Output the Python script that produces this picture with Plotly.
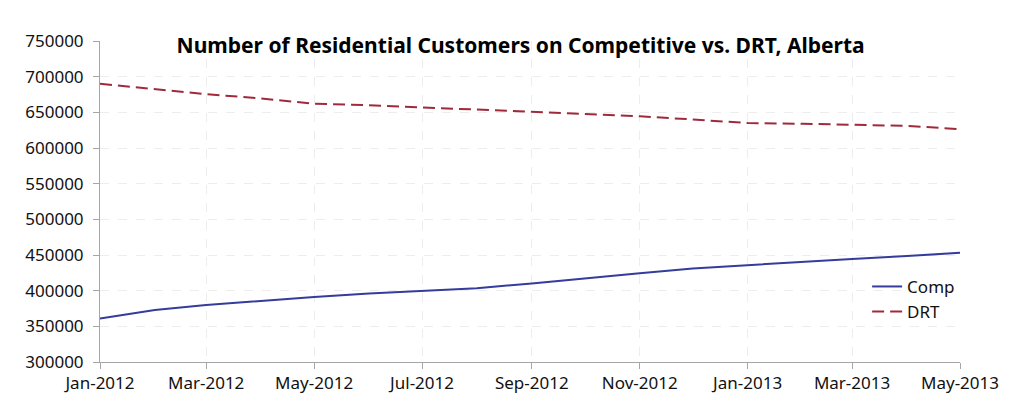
import plotly.graph_objects as go

months = ["2012-01-01", "2012-02-01", "2012-03-01", "2012-04-01", "2012-05-01", "2012-06-01",
          "2012-07-01", "2012-08-01", "2012-09-01", "2012-10-01", "2012-11-01", "2012-12-01",
          "2013-01-01", "2013-02-01", "2013-03-01", "2013-04-01", "2013-05-01"]
comp = [361000, 373000, 380000, 386000, 391000, 396000, 400000, 403500, 410000, 417500,
        424500, 431000, 436000, 440500, 444500, 448500, 453000]
drt = [690000, 682000, 675500, 669500, 662000, 660000, 657000, 653500, 650500, 647500,
       644500, 640000, 635000, 634000, 632500, 631000, 626500]
tick_vals = ["2012-01-01", "2012-03-01", "2012-05-01", "2012-07-01", "2012-09-01",
             "2012-11-01", "2013-01-01", "2013-03-01", "2013-05-01"]
tick_text = ["Jan-2012", "Mar-2012", "May-2012", "Jul-2012", "Sep-2012",
             "Nov-2012", "Jan-2013", "Mar-2013", "May-2013"]
y_ticks = list(range(300000, 750001, 50000))

FONT = "Noto Sans"

fig = go.Figure()
fig.add_trace(go.Scatter(x=months, y=comp, name="Comp", mode="lines",
                         line=dict(color="#343c9c", width=2)))
fig.add_trace(go.Scatter(x=months, y=drt, name="DRT", mode="lines",
                         line=dict(color="#a02a3c", width=2, dash="12px,6px")))

fig.update_layout(
    width=1011, height=419,
    margin=dict(l=100, r=51, t=41, b=57),
    paper_bgcolor="white", plot_bgcolor="white",
    font=dict(family=FONT, size=17, color="#111111"),
    title=dict(text="<b>Number of Residential Customers on Competitive vs. DRT, Alberta</b>",
               x=0.515, xanchor="center", y=0.89, yanchor="middle",
               font=dict(family=FONT, size=21, color="black")),
    showlegend=True,
    legend=dict(x=0.892, y=0.195, xanchor="left", yanchor="middle",
                bgcolor="rgba(0,0,0,0)", font=dict(size=17), tracegroupgap=0),
    xaxis=dict(type="date", range=["2012-01-01", "2013-05-01"],
               tickvals=tick_vals, ticktext=tick_text,
               showline=True, linecolor="#a6a6a6", linewidth=1,
               ticks="outside", ticklen=6, tickcolor="#a6a6a6",
               showgrid=True, gridcolor="#ededed", griddash="dash", gridwidth=1,
               zeroline=False, tickfont=dict(size=17)),
    yaxis=dict(range=[300000, 750000], tickvals=y_ticks,
               ticktext=[str(v) for v in y_ticks],
               showline=True, linecolor="#a6a6a6", linewidth=1,
               ticks="outside", ticklen=6, tickcolor="#a6a6a6",
               ticklabelstandoff=6,
               showgrid=True, gridcolor="#ededed", griddash="dash", gridwidth=1,
               zeroline=False, tickfont=dict(size=17)),
)

fig.write_html("out.html")
